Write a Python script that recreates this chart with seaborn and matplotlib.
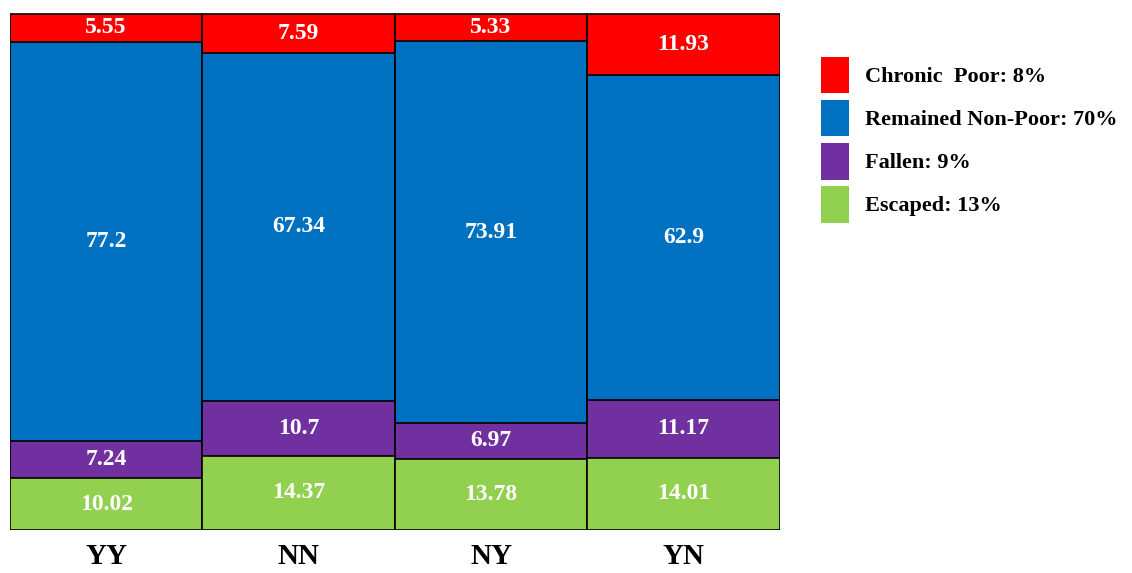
import numpy as np
import pandas as pd
import seaborn as sns
import matplotlib.pyplot as plt
from matplotlib.patches import Patch

groups = ['YY', 'NN', 'NY', 'YN']
escaped = [10.02, 14.37, 13.78, 14.01]
fallen = [7.24, 10.7, 6.97, 11.17]
remained = [77.2, 67.34, 73.91, 62.9]
chronic = [5.55, 7.59, 5.33, 11.93]

series_names = ['Escaped', 'Fallen', 'Remained Non-Poor', 'Chronic Poor']
legend_labels = ['Chronic  Poor: 8%', 'Remained Non-Poor: 70%', 'Fallen: 9%', 'Escaped: 13%']
colors = {'Escaped': '#92D050', 'Fallen': '#7030A0',
          'Remained Non-Poor': '#0070C0', 'Chronic Poor': '#FF0000'}

sns.set_style('white')
plt.rcParams['font.family'] = ['Liberation Serif', 'DejaVu Serif']
plt.rcParams['text.color'] = 'black'
plt.rcParams['xtick.color'] = 'black'

df = pd.DataFrame({'group': groups, 'Escaped': escaped, 'Fallen': fallen,
                   'Remained Non-Poor': remained, 'Chronic Poor': chronic})
cum = df[series_names].cumsum(axis=1)

fig = plt.figure(figsize=(11.32, 5.73), dpi=100)
ax = fig.add_axes([0.0088, 0.075, 0.68, 0.904])

# draw the tallest cumulative first so the smaller ones sit on top
for name in series_names[::-1]:
    sns.barplot(x=df['group'], y=cum[name], color=colors[name], width=1.0,
                saturation=1, edgecolor='black', linewidth=1.2, ax=ax)

# segment labels
for i, g in enumerate(groups):
    base = 0
    for name in series_names:
        v = df.loc[i, name]
        ax.text(i, base + v / 2, f'{v:g}', ha='center', va='center',
                color='white', fontsize=17, fontweight='bold',
                bbox=dict(facecolor=colors[name], edgecolor='none', pad=1.0))
        base += v

ax.set_xlim(-0.5, 3.5)
ax.set_ylim(0, 100.3)
ax.set_xlabel('')
ax.set_ylabel('')
ax.set_yticks([])
ax.tick_params(axis='x', length=0, pad=9)
for lab in ax.get_xticklabels():
    lab.set_fontsize(21)
    lab.set_fontweight('bold')
sns.despine(ax=ax, left=True, bottom=True)

handles = [Patch(facecolor=colors[n], edgecolor='none') for n in series_names[::-1]]
fig.legend(handles, legend_labels, loc='upper left', bbox_to_anchor=(0.708, 0.936),
           frameon=False, prop={'size': 16, 'weight': 'bold'},
           handlelength=1.25, handleheight=2.15, labelspacing=0.3, handletextpad=0.7)

fig.savefig('out.png', dpi=100)
